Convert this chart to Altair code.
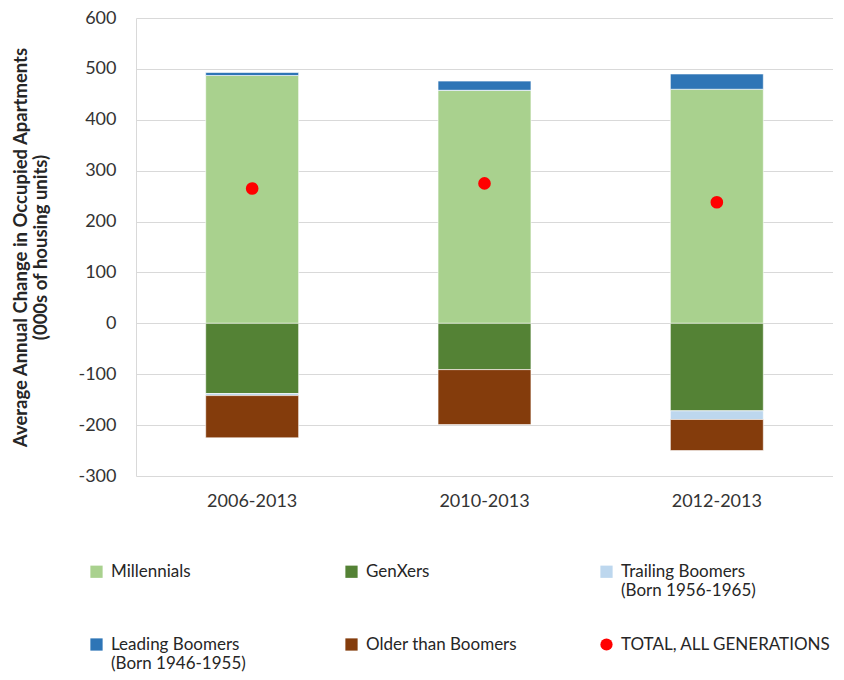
import altair as alt
import pandas as pd

periods = ["2006-2013", "2010-2013", "2012-2013"]
series = [
    "Millennials",
    "GenXers",
    "Trailing Boomers (Born 1956-1965)",
    "Leading Boomers (Born 1946-1955)",
    "Older than Boomers",
]
millennials = [487, 458, 460]
genxers = [-138, -91, -172]
trailing = [-4, 0, -17]
leading = [6, 18, 30]
older = [-83, -108, -61]
totals = [265, 275, 238]
total_name = "TOTAL, ALL GENERATIONS"

colors = ["#a9d18e", "#548235", "#bdd7ee", "#2e75b6", "#843c0c", "#ff0000"]

rows = []
for i, p in enumerate(periods):
    for k, (s, vals) in enumerate(zip(series, [millennials, genxers, trailing, leading, older])):
        rows.append({"period": p, "series": s, "value": vals[i], "ord": k})
bars_df = pd.DataFrame(rows)
tot_df = pd.DataFrame({"period": periods, "series": [total_name] * 3, "value": totals})

legend_order = [series[0], series[1], series[2], series[3], series[4], total_name]
color_scale = alt.Scale(domain=legend_order, range=colors)
shape_scale = alt.Scale(domain=legend_order,
                        range=["square", "square", "square", "square", "square", "circle"])

FONT = "Lato"

legend = alt.Legend(
    title=None, orient="none", legendX=-48, legendY=545, columns=3,
    direction="horizontal",
    columnPadding=22, rowPadding=36, symbolSize=150, symbolStrokeWidth=0,
    labelFont=FONT, labelFontSize=17, labelColor="#262626", labelLimit=400,
    labelBaseline="middle", labelOffset=6, gridAlign="all",
    labelExpr="indexof(datum.label, ' (') > 0 ? [slice(datum.label, 0, indexof(datum.label, ' (')), slice(datum.label, indexof(datum.label, ' (') + 1)] : [datum.label, ' ']",
    symbolOffset=0,
)

x = alt.X("period:N", sort=periods, title=None,
          scale=alt.Scale(paddingInner=0.6, paddingOuter=0.3),
          axis=alt.Axis(labelAngle=0, ticks=False, domain=False, labelFont=FONT,
                        labelFontSize=18, labelColor="#333333", labelPadding=16))
y = alt.Y("value:Q", stack="zero",
          title=["Average Annual Change in Occupied Apartments", "(000s of housing units)"],
          scale=alt.Scale(domain=[-300, 600], nice=False),
          axis=alt.Axis(values=list(range(-300, 601, 100)), ticks=False, domain=True,
                        labelExpr="'' + datum.value",
                        domainColor="#d9d9d9", gridColor="#d9d9d9", labelFont=FONT,
                        labelFontSize=18, labelColor="#333333", labelPadding=20,
                        titleFont=FONT, titleFontSize=18.5, titleFontWeight="bold",
                        titleColor="#262626", titlePadding=27))

bars = alt.Chart(bars_df).mark_bar(stroke="white", strokeWidth=0.6).encode(
    x=x,
    y=y,
    color=alt.Color("series:N", scale=color_scale, legend=legend),
    order=alt.Order("ord:Q"),
)

points = alt.Chart(tot_df).mark_point(filled=True, size=160, opacity=1).encode(
    x=alt.X("period:N", sort=periods),
    y=alt.Y("value:Q"),
    color=alt.Color("series:N", scale=color_scale, legend=legend),
    shape=alt.Shape("series:N", scale=shape_scale, legend=legend),
)

chart = alt.layer(bars, points).properties(
    width=697, height=458,
    padding={"left": 3, "top": 1, "right": 0, "bottom": 0},
).configure_view(stroke=None)

chart.save("out.html", embed_options={"renderer": "svg", "actions": False})
